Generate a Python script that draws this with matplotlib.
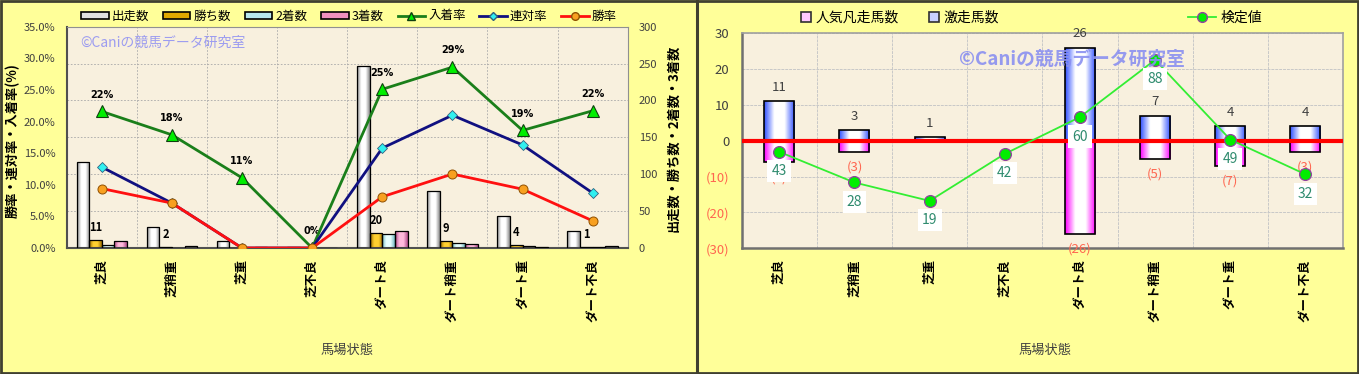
import numpy as np
import matplotlib
matplotlib.use('Agg')
import matplotlib.pyplot as plt
from matplotlib.colors import LinearSegmentedColormap
from matplotlib.patches import Patch, Rectangle
from matplotlib.lines import Line2D

plt.rcParams['font.family'] = ['Noto Sans CJK JP', 'DejaVu Sans']

# ---------------- data ----------------
categories = ['芝良', '芝稍重', '芝重', '芝不良', 'ダート良', 'ダート稍重', 'ダート重', 'ダート不良']

# left chart: counts (right axis)
starts = [117, 28, 9, 1, 247, 77, 43, 23]      # 出走数
wins = [11, 2, 0, 0, 20, 9, 4, 1]              # 勝ち数
seconds = [4, 0, 0, 0, 19, 7, 3, 1]            # 2着数
thirds = [9, 3, 1, 0, 23, 6, 1, 3]             # 3着数
# left chart: rates in % (left axis)
place_rate = [21.6, 17.9, 11.1, 0.0, 25.1, 28.6, 18.6, 21.7]   # 入着率
quinella_rate = [12.8, 7.1, 0.0, 0.0, 15.8, 21.0, 16.3, 8.7]   # 連対率
win_rate = [9.4, 7.1, 0.0, 0.0, 8.1, 11.7, 9.3, 4.3]           # 勝率

# right chart
upset_count = [11, 3, 1, 0, 26, 7, 4, 4]       # 激走馬数
flop_count = [6, 3, 0, 0, 26, 5, 7, 3]         # 人気凡走馬数 (drawn downwards)
test_value = [43, 28, 19, 42, 60, 88, 49, 32]  # 検定値

W, H = 1359, 374
BG = '#FFFF99'
PLOT_BG = '#F8F0DE'
GRAY_TXT = '#404040'

fig = plt.figure(figsize=(W / 100, H / 100), dpi=100)
fig.patch.set_facecolor(BG)


def px_axes(x0, y0, x1, y1):
    return fig.add_axes([x0 / W, 1 - y1 / H, (x1 - x0) / W, (y1 - y0) / H])


def grad_bars(ax, bars, c_edge, c_mid, z):
    cmap = LinearSegmentedColormap.from_list('g', [c_edge, c_mid, c_mid, c_edge])
    g = np.linspace(0, 1, 64).reshape(1, -1)
    for b in bars:
        x, y, w, h = b.get_x(), b.get_y(), b.get_width(), b.get_height()
        if h == 0:
            continue
        im = ax.imshow(g, cmap=cmap, extent=[x, x + w, y, y + h], aspect='auto',
                       zorder=z, interpolation='bilinear')
        im.set_clip_path(b)


x = np.arange(len(categories))

# ================= LEFT CHART =================
axc = px_axes(66.7, 26.7, 627.7, 248)   # counts (bars), ticks on right
axc.set_facecolor(PLOT_BG)
axr_ = axc.twinx()                      # rates (lines), ticks on left
axc.yaxis.tick_right()
axr_.yaxis.tick_left()

bw = 0.18
bar_specs = [
    (starts, -1.5, '#8A8A8A', '#FFFFFF'),
    (wins, -0.5, '#9A6A00', '#FFD030'),
    (seconds, 0.5, '#70B8C0', '#E8FFFF'),
    (thirds, 1.5, '#B04888', '#FFB8DC'),
]
for vals, off, ce, cm in bar_specs:
    bars = axc.bar(x + off * bw, vals, bw, facecolor='none', edgecolor='black',
                   linewidth=0.9, zorder=3)
    grad_bars(axc, bars, ce, cm, 2.5)

for i, v in enumerate(wins):
    if v > 0:
        axc.annotate(str(v), (x[i] - 0.5 * bw, v), xytext=(0, 9), textcoords='offset points',
                     ha='center', va='center', fontsize=8, fontweight='bold', color='black')

axc.set_xlim(-0.5, len(categories) - 0.5)
axc.set_ylim(0, 300)
axc.set_yticks(np.arange(0, 301, 50))
axc.tick_params(axis='y', length=0, pad=8, labelsize=8, labelcolor=GRAY_TXT)
axc.set_xticks(x)
axc.set_xticklabels(categories, rotation=90, fontsize=9, fontweight='bold')
axc.tick_params(axis='x', length=0, pad=8)
axc.set_xticks(np.arange(-0.5, len(categories), 1), minor=True)
axc.tick_params(axis='x', which='minor', length=0)
axc.grid(True, axis='y', which='major', color='#A8A8A8', linestyle=(0, (2, 2)), linewidth=0.6, zorder=0)
axc.grid(True, axis='x', which='minor', color='#A8A8A8', linestyle=(0, (2, 2)), linewidth=0.6, zorder=0)
axc.set_axisbelow(True)
for s in axc.spines.values():
    s.set_color('#909090')
axc.spines['left'].set_color('#505050')
axc.spines['bottom'].set_color('#505050')
axc.spines['left'].set_linewidth(1.5)
axc.spines['bottom'].set_linewidth(1.5)

axr_.set_ylim(0, 35)
axr_.set_yticks(np.arange(0, 36, 5))
axr_.set_yticklabels([f'{t:.1f}%' for t in np.arange(0, 36, 5)])
axr_.tick_params(axis='y', length=0, pad=8, labelsize=8, labelcolor=GRAY_TXT)
for s in axr_.spines.values():
    s.set_visible(False)

axr_.plot(x, place_rate, color='#1A7F1A', lw=2, marker='^', ms=8, mfc='#00EE00',
          mec='#104010', mew=0.8, zorder=5)
axr_.plot(x, quinella_rate, color='#101080', lw=2, marker='D', ms=5, mfc='#30F0F0',
          mec='#306080', mew=0.6, zorder=6)
axr_.plot(x, win_rate, color='#FF1010', lw=2, marker='o', ms=6.5, mfc='#F8A020',
          mec='#905000', mew=0.7, zorder=7)
for i, v in enumerate(place_rate):
    axr_.annotate(f'{v:.0f}%', (x[i], v), xytext=(0, 12), textcoords='offset points',
                  ha='center', va='center', fontsize=7, fontweight='bold',
                  family='DejaVu Sans', color='black')
axr_.set_xlim(-0.5, len(categories) - 0.5)

axc.text(0.025, 0.925, '©Caniの競馬データ研究室', transform=axc.transAxes, fontsize=10,
         color='#9C9CF0', ha='left', va='center', zorder=8)

fig.text(13 / W, 1 - 141 / H, '勝率・連対率・入着率(%)', rotation=90, ha='center', va='center',
         fontsize=9.5, fontweight='bold')
fig.text(673 / W, 1 - 138 / H, '出走数・勝ち数・2着数・3着数', rotation=90, ha='center', va='center',
         fontsize=9.5, fontweight='bold')
fig.text(347 / W, 1 - 350 / H, '馬場状態', ha='center', va='center', fontsize=9.5, color=GRAY_TXT)

left_handles = [
    Patch(facecolor='#E0E0E0', edgecolor='black', lw=1.2),
    Patch(facecolor='#E0A800', edgecolor='black', lw=1.2),
    Patch(facecolor='#B8E8EE', edgecolor='black', lw=1.2),
    Patch(facecolor='#F090C0', edgecolor='black', lw=1.2),
    Line2D([], [], color='#1A7F1A', lw=2, marker='^', ms=6, mfc='#00EE00', mec='#104010'),
    Line2D([], [], color='#101080', lw=2, marker='D', ms=4, mfc='#30F0F0', mec='#306080'),
    Line2D([], [], color='#FF1010', lw=2, marker='o', ms=5.5, mfc='#F8A020', mec='#905000'),
]
left_labels = ['出走数', '勝ち数', '2着数', '3着数', '入着率', '連対率', '勝率']
fig.legend(left_handles, left_labels, loc='center', bbox_to_anchor=(349 / W, 1 - 16 / H),
           ncol=7, frameon=False, fontsize=9, handlelength=2.2, handleheight=0.5,
           handletextpad=0.25, columnspacing=1.1, borderpad=0)

# ================= RIGHT CHART =================
axb = px_axes(741.7, 33.3, 1343, 248.3)
axb.set_facecolor(PLOT_BG)
rw = 0.4
up = axb.bar(x, upset_count, rw, facecolor='none', edgecolor='black', lw=1.2, zorder=3)
grad_bars(axb, up, '#3050FF', '#FFFFFF', 2.5)
down = axb.bar(x, [-v for v in flop_count], rw, facecolor='none', edgecolor='black', lw=1.2, zorder=3)
grad_bars(axb, down, '#FF00FF', '#FFFFFF', 2.5)
axb.axhline(0, color='#FF0000', lw=3, zorder=4)

for i, v in enumerate(upset_count):
    if v > 0:
        axb.annotate(str(v), (x[i], v), xytext=(0, 10), textcoords='offset points',
                     ha='center', va='center', fontsize=9.5, color=GRAY_TXT)
for i, v in enumerate(flop_count):
    if v > 0:
        axb.annotate(f'({v})', (x[i], -v), xytext=(0, -11), textcoords='offset points',
                     ha='center', va='center', fontsize=9.5, color='#FF6650')

axb.set_xlim(-0.5, len(categories) - 0.5)
axb.set_ylim(-30, 30)
axb.set_yticks(np.arange(-30, 31, 10))
axb.set_yticklabels([f'({-t})' if t < 0 else str(t) for t in np.arange(-30, 31, 10)])
for t, lab in zip(np.arange(-30, 31, 10), axb.get_yticklabels()):
    lab.set_color('#FF6650' if t < 0 else GRAY_TXT)
axb.tick_params(axis='y', length=0, pad=9, labelsize=9.5)
axb.set_xticks(x)
axb.set_xticklabels(categories, rotation=90, fontsize=9, fontweight='bold')
axb.tick_params(axis='x', length=0, pad=8)
axb.set_xticks(np.arange(-0.5, len(categories), 1), minor=True)
axb.tick_params(axis='x', which='minor', length=0)
axb.grid(True, axis='y', which='major', color='#C8C8C8', linewidth=0.7, linestyle=(0, (3, 1)), zorder=0)
axb.grid(True, axis='x', which='minor', color='#C8C8C8', linewidth=0.7, linestyle=(0, (3, 1)), zorder=0)
axb.set_axisbelow(True)
for s in axb.spines.values():
    s.set_color('#A0A0A0')
    s.set_linewidth(1.2)
axb.spines['left'].set_color('#707070')
axb.spines['bottom'].set_color('#707070')
axb.spines['left'].set_linewidth(1.8)
axb.spines['bottom'].set_linewidth(1.8)

axt = axb.twinx()
axt.set_ylim(-4.2, 101)
axt.set_xlim(-0.5, len(categories) - 0.5)
axt.axis('off')
axt.plot(x, test_value, color='#33EE33', lw=1.3, marker='o', ms=8.5, mfc='#00EE00',
         mec='#9040A0', mew=0.9, zorder=6)
for i, v in enumerate(test_value):
    axt.annotate(str(v), (x[i], v), xytext=(0, -14), textcoords='offset points',
                 ha='center', va='center', fontsize=10, color='#2E8B6E',
                 bbox=dict(boxstyle='square,pad=0.3', fc='white', ec='none'), zorder=7)

axt.text(0.55, 0.88, '©Caniの競馬データ研究室', transform=axb.transAxes, fontsize=13.5,
         fontweight='bold', color='#8A90F0', alpha=0.9, ha='center', va='center', zorder=8)

fig.text(1045 / W, 1 - 350 / H, '馬場状態', ha='center', va='center', fontsize=9.5, color=GRAY_TXT)

bar_handles = [Patch(facecolor='#FFC8FF', edgecolor='#303030', lw=1.2),
               Patch(facecolor='#C8D0FF', edgecolor='#303030', lw=1.2)]
fig.legend(bar_handles, ['人気凡走馬数', '激走馬数'], loc='center',
           bbox_to_anchor=(900 / W, 1 - 18 / H), ncol=2, frameon=False, fontsize=10,
           handlelength=0.7, handleheight=0.7, handletextpad=0.3, columnspacing=2.2, borderpad=0)
fig.legend([Line2D([], [], color='#33EE33', lw=1.3, marker='o', ms=7, mfc='#00EE00', mec='#9040A0')],
           ['検定値'], loc='center', bbox_to_anchor=(1225 / W, 1 - 18 / H), frameon=False,
           fontsize=10, handlelength=2.0, handletextpad=0.3, borderpad=0)

# panel borders
fig.add_artist(Rectangle((0.5 / W, 1 / H), (W - 2) / W, (H - 2) / H, transform=fig.transFigure,
                         fill=False, ec='#404030', lw=2))
fig.add_artist(Line2D([696.5 / W, 696.5 / W], [0, 1], transform=fig.transFigure,
                      color='#404030', lw=2.2))

fig.savefig('out.png', dpi=100, facecolor=BG)
